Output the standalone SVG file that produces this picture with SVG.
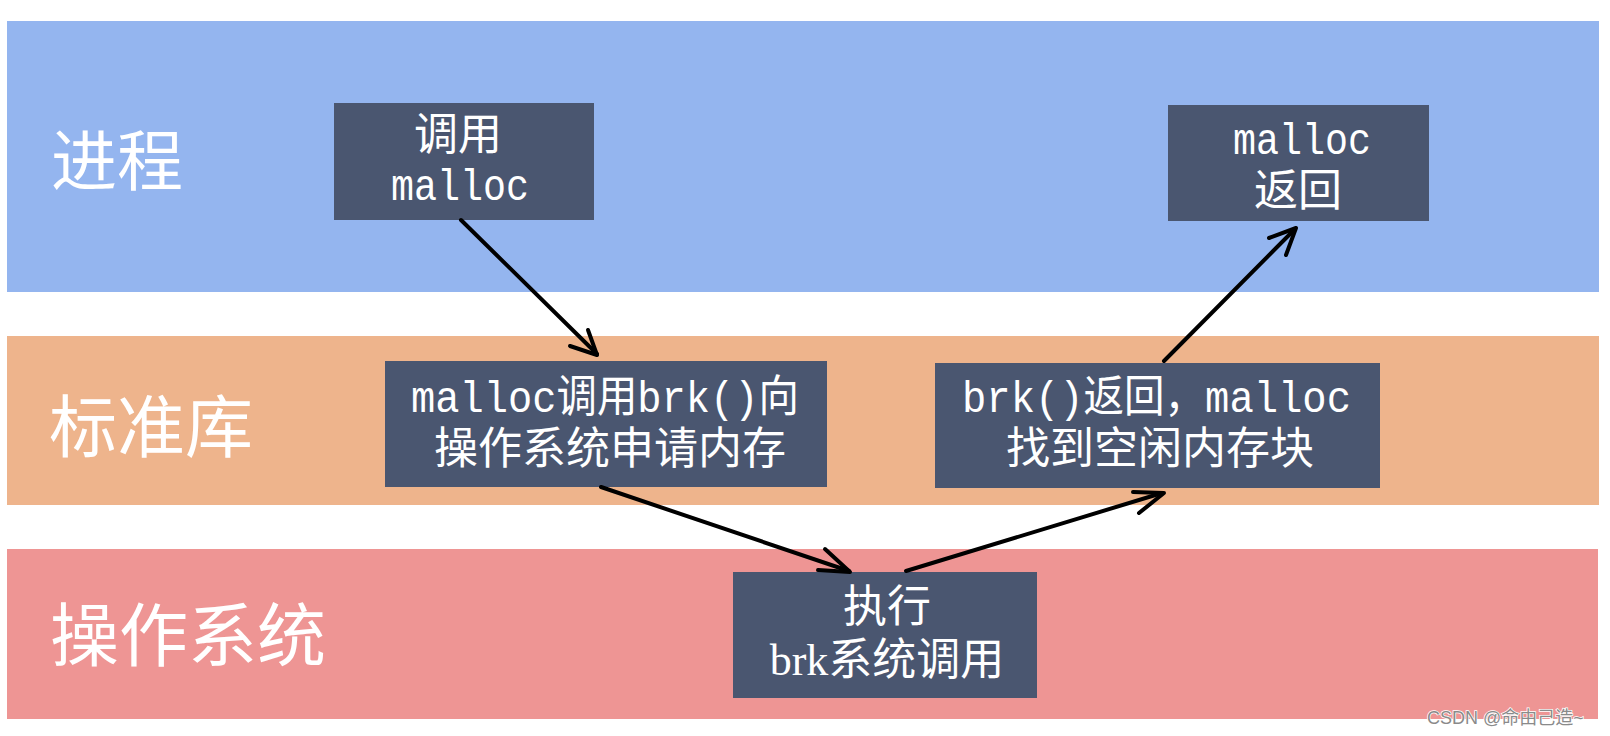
<svg xmlns="http://www.w3.org/2000/svg" width="1610" height="736" viewBox="0 0 1610 736">
<style>
.band-label{font-family:"Noto Sans CJK SC","Noto Sans",sans-serif;fill:#ffffff;}
.node rect{fill:#4a5670;}
.t{font-family:"Liberation Mono","Noto Sans CJK SC",monospace;font-size:44px;fill:#ffffff;}
.c{font-family:"Noto Sans CJK SC","Noto Sans",sans-serif;font-size:44px;fill:#ffffff;}
.mid{text-anchor:middle;}
.conn path{fill:none;stroke:#000;stroke-width:4;stroke-linecap:round;stroke-linejoin:round;}
.wm{font-family:"Liberation Sans","Noto Sans CJK SC",sans-serif;font-size:18px;fill:#8a8a8a;stroke:#ffffff;stroke-width:1.5;paint-order:stroke;}
</style>
<rect width="1610" height="736" fill="#ffffff"/>
<g id="lane-process">
<rect x="7" y="21" width="1592" height="271" fill="#94b5ef"/>
<text class="band-label" x="51" y="185" font-size="66">进程</text>
</g>
<g id="lane-stdlib">
<rect x="7" y="336" width="1592" height="169" fill="#eeb48c"/>
<text class="band-label" x="49" y="452" font-size="68">标准库</text>
</g>
<g id="lane-os">
<rect x="7" y="549" width="1591" height="170" fill="#ee9594"/>
<text class="band-label" x="50" y="661" font-size="69">操作系统</text>
</g>
<g id="n1" class="node">
<rect x="334" y="103" width="260" height="117"/>
<text class="c mid" x="458" y="150">调用</text>
<text class="t" x="391" y="200" textLength="138" lengthAdjust="spacingAndGlyphs">malloc</text>
</g>
<g id="n2" class="node">
<rect x="1168" y="105" width="261" height="116"/>
<text class="t" x="1233" y="154" textLength="138" lengthAdjust="spacingAndGlyphs">malloc</text>
<text class="c mid" x="1298" y="206">返回</text>
</g>
<g id="n3" class="node">
<rect x="385" y="361" width="442" height="126"/>
<text class="t" x="411" y="412" textLength="388" lengthAdjust="spacingAndGlyphs">malloc调用brk()向</text>
<text class="c mid" x="610" y="464">操作系统申请内存</text>
</g>
<g id="n4" class="node">
<rect x="935" y="363" width="445" height="125"/>
<text class="t" x="962" y="412" textLength="389" lengthAdjust="spacingAndGlyphs">brk()返回，malloc</text>
<text class="c mid" x="1160" y="464">找到空闲内存块</text>
</g>
<g id="n5" class="node">
<rect x="733" y="572" width="304" height="126"/>
<text class="c mid" x="887" y="622">执行</text>
<text class="c mid" x="887" y="675"><tspan font-family="Liberation Serif, serif">brk</tspan>系统调用</text>
</g>
<g id="connectors" class="conn">
<path d="M461,220 L597,354"/>
<path d="M570,346 L597,355 L588,330"/>
<path d="M601,487 L849,571"/>
<path d="M818,570 L850,572 L825,549"/>
<path d="M906,571 L1162,493"/>
<path d="M1133,492 L1164,493 L1139,513"/>
<path d="M1164,361 L1294,230"/>
<path d="M1269,238 L1296,228 L1286,255"/>
</g>
<text class="wm" x="1427" y="724">CSDN @命由己造~</text>
</svg>
